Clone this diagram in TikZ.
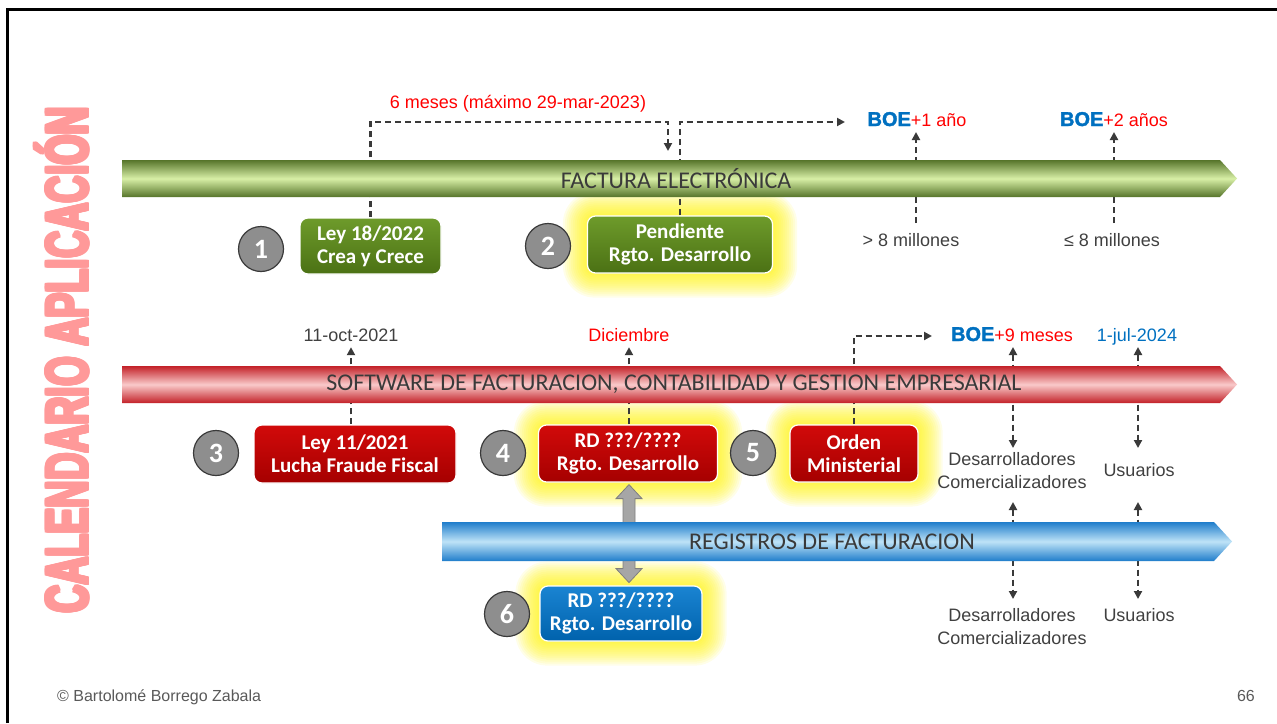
\documentclass[tikz,border=0pt]{standalone}
\usepackage{fontspec}
\usepackage{graphicx}
\setmainfont{Liberation Sans}
\newfontfamily\calfont{Carlito}
\newfontfamily\boefont[FakeBold=1.6]{Liberation Sans Bold}
\usetikzlibrary{arrows.meta,calc}
\definecolor{dgray}{HTML}{3A3A3A}
\definecolor{labgray}{HTML}{404040}
\definecolor{footgray}{HTML}{595959}
\definecolor{boeblue}{HTML}{0070C0}
\definecolor{titlepink}{HTML}{FF9999}
\definecolor{gD}{HTML}{56742A}
\definecolor{gL}{HTML}{D8EFA6}
\definecolor{rD}{HTML}{C32128}
\definecolor{rL}{HTML}{F9CACA}
\definecolor{bD}{HTML}{1F7DCB}
\definecolor{bL}{HTML}{BEE3F7}
\definecolor{gboxT}{HTML}{6E9B2B}
\definecolor{gboxB}{HTML}{4B7114}
\definecolor{rboxT}{HTML}{D20A0A}
\definecolor{rboxB}{HTML}{A50000}
\definecolor{bboxT}{HTML}{1A84D2}
\definecolor{bboxB}{HTML}{0062AC}
\definecolor{circfill}{HTML}{8E8E8E}
\definecolor{garrow}{HTML}{A6A6A6}
\definecolor{garrowD}{HTML}{7F7F7F}
\newcommand\boetxt{{\boefont\fontsize{20}{21}\selectfont\color{boeblue}BOE}}
\pgfdeclarelayer{glow}
\pgfdeclarelayer{lines}
\pgfdeclarelayer{banners}
\pgfsetlayers{glow,lines,banners,main}
\tikzset{
  dline/.style={draw=dgray, line width=2.4pt, dash pattern=on 6pt off 4pt},
  arr/.style={-{Triangle[length=8pt,width=8pt]}},
  arrb/.style={{Triangle[length=8pt,width=8pt]}-{Triangle[length=8pt,width=8pt]}},
  boxbase/.style={rounded corners=8pt, draw=white, line width=1.2pt, align=center,
    text=white, inner sep=0pt, font=\calfont\bfseries\fontsize{21}{23}\selectfont},
  gbox/.style={boxbase, top color=gboxT, bottom color=gboxB},
  rbox/.style={boxbase, top color=rboxT, bottom color=rboxB},
  bbox/.style={boxbase, top color=bboxT, bottom color=bboxB},
  numc/.style={circle, fill=circfill, draw=dgray, line width=1.2pt, minimum size=45pt,
    inner sep=0pt, text=white, font=\calfont\bfseries\fontsize{28}{28}\selectfont},
  lab/.style={text=labgray, inner sep=2pt, align=center, font=\fontsize{18}{23}\selectfont},
  slab/.style={lab, text height=14pt, text depth=4pt},
  bantext/.style={text=dgray, font=\calfont\fontsize{24}{26}\selectfont, inner sep=0pt}
}
\newcommand\glowbox[1]{%
  \begin{pgfonlayer}{glow}
  \foreach \i [evaluate=\i as \r using 8+2*\i] in {1,...,12}{
    \fill[yellow, opacity=0.09, rounded corners=\r pt]
      ($(#1.south west)+(-2*\i,2*\i)$) rectangle ($(#1.north east)+(2*\i,-2*\i)$);
  }
  \end{pgfonlayer}}
\begin{document}
\begin{tikzpicture}[x=1pt,y=-1pt]
\useasboundingbox (0,0) rectangle (1277,723);
% frame
\draw[line width=3pt] (7.5,723) -- (7.5,9.5) -- (1277,9.5);

% title (thickened by overprinting)
\foreach \dx in {-1.6,-0.8,0,0.8,1.6}{
  \foreach \dy in {-1.2,0,1.2}{
    \node[rotate=90, anchor=base, text=titlepink, inner sep=0pt] at (88+\dx,360+\dy)
      {\scalebox{0.64}[1]{\fontsize{60}{60}\selectfont\bfseries CALENDARIO APLICACIÓN}};
  }
}
\node[rotate=90, anchor=base, text=titlepink, inner sep=0pt] (title) at (88,360)
  {\scalebox{0.64}[1]{\fontsize{60}{60}\selectfont\bfseries CALENDARIO APLICACIÓN}};

% banners
\begin{pgfonlayer}{banners}
\shade[top color=gD, bottom color=gD, middle color=gL]
  (122,160) -- (1220,160) -- (1237,178.5) -- (1220,197) -- (122,197) -- cycle;
\shade[top color=rD, bottom color=rD, middle color=rL]
  (122,366) -- (1220,366) -- (1237,384.5) -- (1220,403) -- (122,403) -- cycle;
\shade[top color=bD, bottom color=bD, middle color=bL]
  (442,522) -- (1214,522) -- (1232,541.5) -- (1214,561) -- (442,561) -- cycle;
\node[bantext] (fe) at (676,178.5) {FACTURA ELECTRÓNICA};
\node[bantext] (sw) at (674,384.5) {SOFTWARE DE FACTURACION, CONTABILIDAD Y GESTION EMPRESARIAL};
\node[bantext] (rf) at (832,541.5) {REGISTROS DE FACTURACION};
\end{pgfonlayer}

% boxes
\node[gbox, minimum width=141pt, minimum height=56pt] (b1) at (370.5,246) {Ley 18/2022\\Crea y Crece};
\node[gbox, minimum width=185pt, minimum height=57pt] (b2) at (680,244.5) {Pendiente\\Rgto. Desarrollo};
\node[rbox, minimum width=202pt, minimum height=58pt] (b3) at (355,454) {Ley 11/2021\\Lucha Fraude Fiscal};
\node[rbox, minimum width=179pt, minimum height=57pt] (b4) at (628,453.5) {RD ???/????\\Rgto. Desarrollo};
\node[rbox, minimum width=128pt, minimum height=57pt] (b5) at (854,453.5) {Orden\\Ministerial};
\node[bbox, minimum width=162pt, minimum height=55pt] (b6) at (621,613.5) {RD ???/????\\Rgto. Desarrollo};
\glowbox{b2}
\glowbox{b4}
\glowbox{b5}
\glowbox{b6}

% number circles
\node[numc] (n1) at (261,249) {1};
\node[numc] (n2) at (548,246) {2};
\node[numc] (n3) at (216,453) {3};
\node[numc] (n4) at (503,453) {4};
\node[numc] (n5) at (753,453) {5};
\node[numc] (n6) at (507,614) {6};

% labels row 1
\node[slab, text=red] (l6m) at (518,103) {6 meses (máximo 29-mar-2023)};
\node[slab] (boe1) at (917,121) {\boetxt\textcolor{red}{+1 año}};
\node[slab] (boe2) at (1114,121) {\boetxt\textcolor{red}{+2 años}};
\node[slab] (m1) at (911,241) {> 8 millones};
\node[slab] (m2) at (1112,241) {≤ 8 millones};

% labels row 2
\node[slab] (d1) at (351,336) {11-oct-2021};
\node[slab, text=red] (d2) at (629,336) {Diciembre};
\node[slab] (boe9) at (1012,336) {\boetxt\textcolor{red}{+9 meses}};
\node[slab, text=boeblue] (jul) at (1137,336) {1-jul-2024};
\node[lab] (dev1) at (1012,470.5) {Desarrolladores\\Comercializadores};
\node[slab] (us1) at (1139,471) {Usuarios};
\node[lab] (dev2) at (1012,627) {Desarrolladores\\Comercializadores};
\node[slab] (us2) at (1139,616) {Usuarios};

% footer
\node[anchor=base west, text=footgray, inner sep=0pt, font=\fontsize{16}{16}\selectfont] (foot) at (57,701) {© Bartolomé Borrego Zabala};
\node[anchor=base east, text=footgray, inner sep=0pt, font=\fontsize{16}{16}\selectfont] (page) at (1255,701) {66};

% connector coordinates
\coordinate (t1) at (668,151);
\coordinate (t2) at (845,122);
\coordinate (v1a) at (916,223);
\coordinate (v1b) at (916,132);
\coordinate (v2a) at (1114,223);
\coordinate (v2b) at (1114,132);
\coordinate (t5) at (932,336);
\coordinate (ua) at (1138,347);
\coordinate (ub) at (1138,448);
\coordinate (uc) at (1138,502);
\coordinate (ud) at (1138,599);
\coordinate (da) at (1013,347);
\coordinate (db) at (1013,448);
\coordinate (dc) at (1013,502);
\coordinate (dd) at (1013,599);

\begin{pgfonlayer}{lines}
\draw[dline, arr] (b1.north) |- ($(t1)+(0,-29)$) -- (t1);
\draw[dline, arr] (b2.north) |- (t2);
\draw[dline, arr] (v1a) -- (v1b);
\draw[dline, arr] (v2a) -- (v2b);
\draw[dline, arr] (b3.north -| d1) -- (d1.south);
\draw[dline, arr] (b4.north -| d2) -- (d2.south);
\draw[dline, arr] (b5.north) |- (t5);
\draw[dline, arrb] (da) -- (db);
\draw[dline, arrb] (ua) -- (ub);
\draw[dline, arrb] (dc) -- (dd);
\draw[dline, arrb] (uc) -- (ud);
% gray block double arrow
\filldraw[fill=garrow, draw=garrowD, line width=0.8pt]
  ($(b4.south)+(1,2)$) -- ++(13,14) -- ++(-7,0) -- ++(0,70) -- ++(7,0) -- ++(-13,14)
  -- ++(-13,-14) -- ++(7,0) -- ++(0,-70) -- ++(-7,0) -- cycle;
\end{pgfonlayer}
\end{tikzpicture}
\end{document}
